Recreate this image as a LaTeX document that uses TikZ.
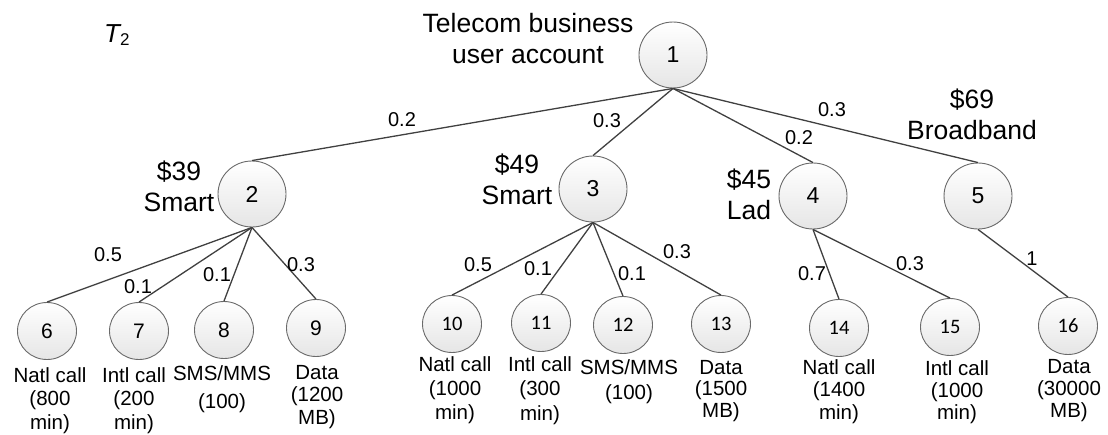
\documentclass[tikz,border=0pt]{standalone}
\usepackage{fontspec}
\setmainfont{Liberation Sans}
\newfontfamily\numfont{Carlito}
\usetikzlibrary{shapes.geometric}
\newcommand\rows[1]{\begin{tabular}[t]{@{}c@{}}#1\end{tabular}}
\definecolor{edgegray}{HTML}{404040}
\definecolor{rimgray}{HTML}{6A6A6A}
\tikzset{
  bubble/.style={ellipse, draw=rimgray, line width=0.9pt, top color=white, bottom color=black!10, inner sep=0pt},
  bigbubble/.style={bubble, minimum width=68pt, minimum height=66pt, font=\fontsize{23}{26}\selectfont},
  leaf/.style={bubble, minimum width=59pt, minimum height=57pt, font=\fontsize{21}{24}\selectfont},
  leafnum/.style={leaf, font=\fontsize{20.5}{24}\numfont},
  link/.style={draw=edgegray, line width=1.3pt},
  weight/.style={inner sep=0pt, font=\fontsize{20}{22}\selectfont},
  title/.style={anchor=base, inner sep=0pt, font=\fontsize{26.5}{31.5}\selectfont},
  desc/.style={anchor=base, inner sep=0pt},
}
\begin{document}
\begin{tikzpicture}[x=1pt,y=-1pt]
\useasboundingbox (0,0) rectangle (1108,434);

% tree label
\node[anchor=base west, inner sep=0pt] (tname) at (104,42)
  {{\fontsize{26}{30}\selectfont\itshape T}\raisebox{-3pt}{\fontsize{17}{20}\selectfont 2}};

% account and plan nodes
\node[bigbubble] (n1) at (673,55) {1};
\node[bigbubble] (n2) at (252,194) {2};
\node[bigbubble] (n3) at (593,189) {3};
\node[bigbubble] (n4) at (813,196) {4};
\node[bigbubble] (n5) at (978,196) {5};

% service nodes
\node[leaf] (n6) at (47,331) {6};
\node[leaf] (n7) at (139,331) {7};
\node[leaf] (n8) at (224,330) {8};
\node[leaf] (n9) at (316,328) {9};
\node[leafnum] (n10) at (452,324) {10};
\node[leafnum] (n11) at (541,323) {11};
\node[leafnum] (n12) at (623,325) {12};
\node[leafnum] (n13) at (721,324) {13};
\node[leafnum] (n14) at (839,328) {14};
\node[leafnum] (n15) at (950,327) {15};
\node[leafnum] (n16) at (1068,326) {16};

% connectors
\foreach \p/\c in {n1/n2, n1/n3, n1/n4, n1/n5,
                   n2/n6, n2/n7, n2/n8, n2/n9,
                   n3/n10, n3/n11, n3/n12, n3/n13,
                   n4/n14, n4/n15, n5/n16}
  \draw[link] (\p.south) -- (\c.north);

% connector weights
\node[weight] (w2) at (402,120) {0.2};
\node[weight] (w3) at (607,121) {0.3};
\node[weight] (w4) at (799,138) {0.2};
\node[weight] (w5) at (832,110) {0.3};
\node[weight] (w6) at (108,255) {0.5};
\node[weight] (w7) at (138,287) {0.1};
\node[weight] (w8) at (217,275) {0.1};
\node[weight] (w9) at (301,265) {0.3};
\node[weight] (w10) at (478,265) {0.5};
\node[weight] (w11) at (538,269) {0.1};
\node[weight] (w12) at (632,274) {0.1};
\node[weight] (w13) at (677,252) {0.3};
\node[weight] (w14) at (812,274) {0.7};
\node[weight] (w15) at (910,264) {0.3};
\node[weight] (w16) at (1032,259) {1};

% account and plan captions
\node[title] (t1) at (528,32) {\rows{Telecom business\\user account}};
\node[title] (t2) at (179,180) {\rows{\$39\\Smart}};
\node[title] (t3) at (517,173) {\rows{\$49\\Smart}};
\node[title] (t4) at (749,188) {\rows{\$45\\Lad}};
\node[title] (t5) at (972,108) {\rows{\$69\\Broadband}};

% service captions
\node[desc, font=\fontsize{20.5}{23.8}\selectfont] (d6) at (50,382) {\rows{Natl call\\(800\\min)}};
\node[desc, font=\fontsize{20.5}{23.8}\selectfont] (d7) at (134,382) {\rows{Intl call\\(200\\min)}};
\node[desc, font=\fontsize{20.5}{28}\selectfont] (d8) at (222,380) {\rows{SMS/MMS\\(100)}};
\node[desc, font=\fontsize{20.5}{22.5}\selectfont] (d9) at (317,379) {\rows{Data\\(1200\\MB)}};
\node[desc, font=\fontsize{20.5}{24}\selectfont] (d10) at (455,371) {\rows{Natl call\\(1000\\min)}};
\node[desc, font=\fontsize{20.5}{24.5}\selectfont] (d11) at (540,371) {\rows{Intl call\\(300\\min)}};
\node[desc, font=\fontsize{20.5}{25}\selectfont] (d12) at (629,374) {\rows{SMS/MMS\\(100)}};
\node[desc, font=\fontsize{20.5}{21.5}\selectfont] (d13) at (721,374) {\rows{Data\\(1500\\MB)}};
\node[desc, font=\fontsize{20.5}{22.5}\selectfont] (d14) at (839,374) {\rows{Natl call\\(1400\\min)}};
\node[desc, font=\fontsize{20.5}{22}\selectfont] (d15) at (957,375) {\rows{Intl call\\(1000\\min)}};
\node[desc, font=\fontsize{20.5}{22}\selectfont] (d16) at (1069,373) {\rows{Data\\(30000\\MB)}};
\end{tikzpicture}
\end{document}
